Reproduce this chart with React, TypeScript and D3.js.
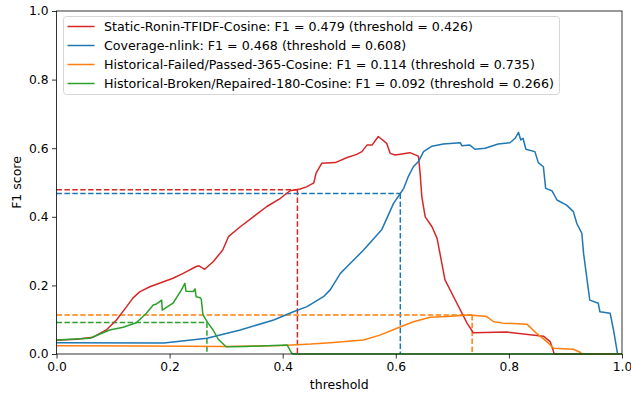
import React, { useEffect, useRef } from 'react'
import * as d3 from 'd3'

// [threshold, F1] points
const staticRonin: [number, number][] = [
  [0, 0.04], [0.035, 0.043], [0.065, 0.049], [0.088, 0.07], [0.106, 0.099], [0.124, 0.138],
  [0.135, 0.163], [0.147, 0.181], [0.165, 0.196], [0.206, 0.221], [0.224, 0.235], [0.247, 0.255],
  [0.252, 0.257], [0.262, 0.247], [0.277, 0.269], [0.294, 0.303], [0.304, 0.342],
  [0.325, 0.371], [0.348, 0.4], [0.372, 0.43], [0.396, 0.454], [0.413, 0.476],
  [0.431, 0.481], [0.443, 0.488], [0.455, 0.499], [0.459, 0.527], [0.469, 0.556],
  [0.493, 0.558], [0.514, 0.573], [0.531, 0.582], [0.54, 0.59], [0.549, 0.609],
  [0.558, 0.609], [0.569, 0.634], [0.584, 0.614], [0.59, 0.585], [0.599, 0.58],
  [0.625, 0.587], [0.64, 0.577], [0.643, 0.527], [0.646, 0.459], [0.652, 0.4],
  [0.664, 0.371], [0.673, 0.337], [0.687, 0.216], [0.708, 0.148], [0.726, 0.09],
  [0.737, 0.062], [0.796, 0.064], [0.861, 0.052], [0.873, 0.036], [0.878, 0.012],
  [0.88, 0], [1.0, 0],
]

const coverageNlink: [number, number][] = [
  [0, 0.033], [0.19, 0.032], [0.266, 0.046], [0.325, 0.07], [0.384, 0.099],
  [0.419, 0.123], [0.443, 0.138], [0.472, 0.167], [0.484, 0.187], [0.502, 0.235],
  [0.514, 0.255], [0.543, 0.303], [0.575, 0.362], [0.596, 0.439], [0.608, 0.468],
  [0.614, 0.483], [0.622, 0.517], [0.631, 0.546], [0.64, 0.561], [0.649, 0.59],
  [0.664, 0.606], [0.684, 0.612], [0.714, 0.616], [0.717, 0.607], [0.731, 0.609],
  [0.74, 0.597], [0.758, 0.6], [0.781, 0.612], [0.802, 0.616], [0.811, 0.629],
  [0.817, 0.646], [0.821, 0.624], [0.825, 0.629], [0.83, 0.597], [0.846, 0.59],
  [0.852, 0.558], [0.861, 0.546], [0.865, 0.483], [0.876, 0.476], [0.885, 0.449],
  [0.902, 0.434], [0.914, 0.415], [0.92, 0.381], [0.929, 0.352], [0.932, 0.294],
  [0.943, 0.157], [0.958, 0.148], [0.961, 0.123], [0.979, 0.119], [0.985, 0.07],
  [0.992, 0.002],
]

const failedPassed: [number, number][] = [
  [0, 0.024], [0.15, 0.023], [0.3, 0.022], [0.4, 0.025], [0.45, 0.029], [0.484, 0.033],
  [0.543, 0.041], [0.572, 0.055], [0.602, 0.075], [0.631, 0.094], [0.661, 0.107],
  [0.69, 0.109], [0.731, 0.114], [0.761, 0.109], [0.773, 0.094], [0.79, 0.09],
  [0.832, 0.087], [0.849, 0.06], [0.867, 0.036], [0.879, 0.017], [0.914, 0.014],
  [0.926, 0.005], [0.93, 0], [1.0, 0],
]

const brokenRepaired: [number, number][] = [
  [0, 0.041], [0.059, 0.046], [0.094, 0.07], [0.118, 0.078], [0.141, 0.091],
  [0.159, 0.119], [0.171, 0.143], [0.177, 0.146], [0.186, 0.157], [0.187, 0.128],
  [0.206, 0.148], [0.221, 0.187], [0.227, 0.206], [0.229, 0.183], [0.242, 0.182],
  [0.245, 0.19], [0.247, 0.167], [0.254, 0.164], [0.256, 0.16], [0.259, 0.114],
  [0.268, 0.09], [0.277, 0.07], [0.286, 0.043], [0.3, 0.021], [0.335, 0.022],
  [0.408, 0.026], [0.416, 0.002], [0.42, 0], [1.0, 0],
]

const seriesNames = [
  'Static-Ronin-TFIDF-Cosine',
  'Coverage-nlink',
  'Historical-Failed/Passed-365-Cosine',
  'Historical-Broken/Repaired-180-Cosine',
]
const bestF1 = [0.479, 0.468, 0.114, 0.092]
const bestThreshold = [0.426, 0.608, 0.735, 0.266]
const colors = ['#d62728', '#1f77b4', '#ff7f0e', '#2ca02c']
const tickValues = [0, 0.2, 0.4, 0.6, 0.8, 1.0]

const App = () => {
  const ref = useRef<SVGSVGElement>(null)

  useEffect(() => {
    const svg = d3.select(ref.current)
    svg.selectAll('*').remove()

    const left = 56.5, right = 622, top = 11, bottom = 354
    const x = d3.scaleLinear().domain([0, 1]).range([left, right])
    const y = d3.scaleLinear().domain([0, 1]).range([bottom, top])
    const font = 'DejaVu Sans, sans-serif'
    const fs = 12.5

    const allSeries = [staticRonin, coverageNlink, failedPassed, brokenRepaired]

    // dashed guides first
    const guides = svg.append('g')
    bestF1.forEach((f, i) => {
      guides.append('line')
        .attr('x1', x(0)).attr('x2', x(bestThreshold[i]))
        .attr('y1', y(f)).attr('y2', y(f))
        .attr('stroke', colors[i]).attr('stroke-width', 1.5)
        .attr('stroke-dasharray', '5.5,2.4')
      guides.append('line')
        .attr('x1', x(bestThreshold[i])).attr('x2', x(bestThreshold[i]))
        .attr('y1', y(f)).attr('y2', y(0))
        .attr('stroke', colors[i]).attr('stroke-width', 1.5)
        .attr('stroke-dasharray', '5.5,2.4')
    })

    const line = d3.line<[number, number]>()
      .x(d => x(d[0]))
      .y(d => y(d[1]))

    const curves = svg.append('g')
    allSeries.forEach((s, i) => {
      curves.append('path')
        .attr('d', line(s))
        .attr('fill', 'none')
        .attr('stroke', colors[i])
        .attr('stroke-width', 1.5)
        .attr('stroke-linejoin', 'round')
    })

    // frame
    svg.append('rect')
      .attr('x', left).attr('y', top)
      .attr('width', right - left).attr('height', bottom - top)
      .attr('fill', 'none').attr('stroke', 'black').attr('stroke-width', 0.8)

    const xaxis = d3.axisBottom(x).tickValues(tickValues).tickFormat(d3.format('.1f')).tickSizeOuter(0).tickSize(4.5).tickPadding(3.5)
    const yaxis = d3.axisLeft(y).tickValues(tickValues).tickFormat(d3.format('.1f')).tickSizeOuter(0).tickSize(4.5).tickPadding(3.5)

    const gx = svg.append('g').attr('transform', 'translate(0,' + bottom + ')').call(xaxis)
    const gy = svg.append('g').attr('transform', 'translate(' + left + ',0)').call(yaxis)
    ;[gx, gy].forEach(g => {
      g.select('.domain').remove()
      g.selectAll('line').attr('stroke', 'black').attr('stroke-width', 0.8)
      g.selectAll('text').attr('font-family', font).attr('font-size', 12.3).attr('fill', 'black')
    })

    svg.append('text')
      .attr('x', (left + right) / 2).attr('y', 389)
      .attr('text-anchor', 'middle')
      .attr('font-family', font).attr('font-size', fs)
      .text('threshold')

    svg.append('text')
      .attr('transform', 'translate(21,' + (top + bottom) / 2 + ') rotate(-90)')
      .attr('text-anchor', 'middle')
      .attr('font-family', font).attr('font-size', fs)
      .text('F1 score')

    // legend
    const legend = svg.append('g')
    legend.append('rect')
      .attr('x', 63.5).attr('y', 16.5)
      .attr('width', 496).attr('height', 78)
      .attr('rx', 3)
      .attr('fill', 'white').attr('fill-opacity', 0.8)
      .attr('stroke', '#cccccc').attr('stroke-width', 0.8)
    seriesNames.forEach((name, i) => {
      const ly = 26.5 + i * 19
      legend.append('line')
        .attr('x1', 67.5).attr('x2', 94.5)
        .attr('y1', ly).attr('y2', ly)
        .attr('stroke', colors[i]).attr('stroke-width', 1.5)
      legend.append('text')
        .attr('x', 104).attr('y', ly + 4.5)
        .attr('font-family', font).attr('font-size', 12.65)
        .text(name + ': F1 = ' + bestF1[i].toFixed(3) + ' (threshold = ' + bestThreshold[i].toFixed(3) + ')')
    })
  }, [])

  return (
    <svg
      ref={ref}
      width={631}
      height={396}
      style={{ position: 'absolute', left: 0, top: 0, background: 'white' }}
    />
  )
}

export default App
